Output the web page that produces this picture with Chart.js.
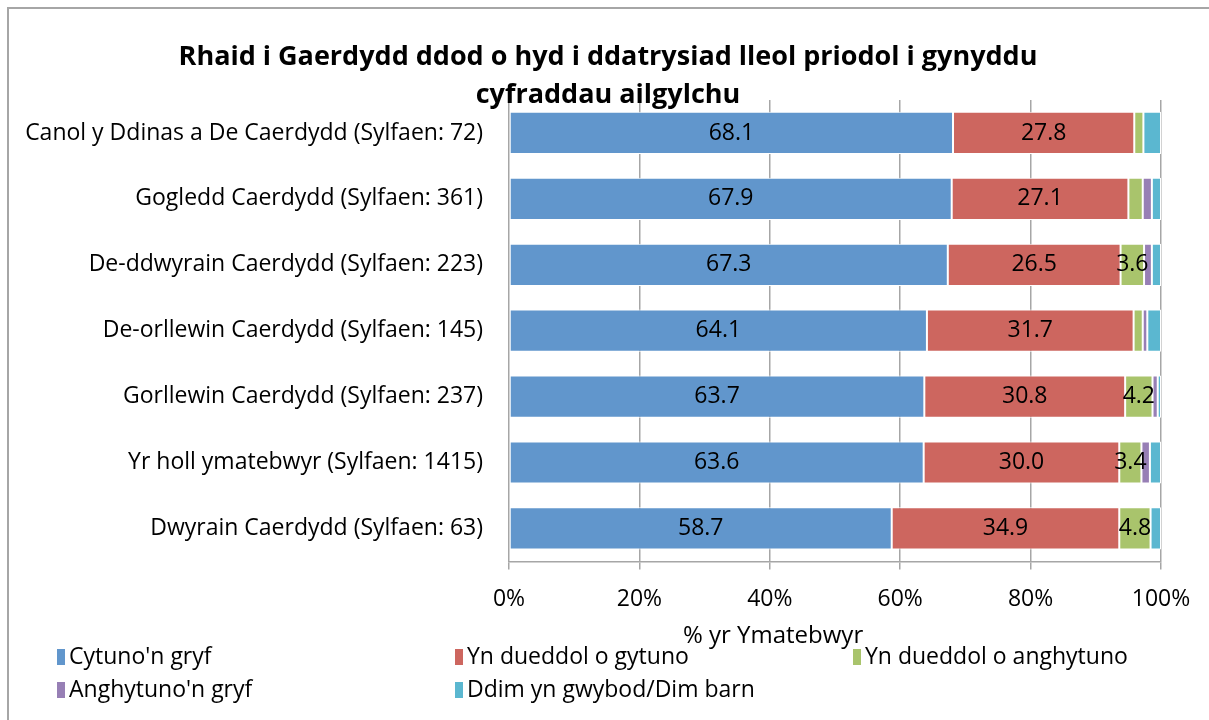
<!DOCTYPE html>
<html>
<head>
<meta charset="utf-8">
<script src="https://cdn.jsdelivr.net/npm/chart.js@4/dist/chart.umd.min.js"></script>
<style>
  body { margin: 0; background: #fff; overflow: hidden; }
  .frame { position: absolute; left: 7px; top: 7px; width: 1220px; height: 730px; border: 2px solid #a6a6a6; }
  #wrap { position: absolute; left: 0; top: 0; width: 1209px; height: 720px; }
</style>
</head>
<body>
<div class="frame"></div>
<div id="wrap"><canvas id="chart" width="1209" height="720"></canvas></div>
<script>
// rows, top to bottom
const categories = [
  'Canol y Ddinas a De Caerdydd (Sylfaen: 72)',
  'Gogledd Caerdydd (Sylfaen: 361)',
  'De-ddwyrain Caerdydd (Sylfaen: 223)',
  'De-orllewin Caerdydd (Sylfaen: 145)',
  'Gorllewin Caerdydd (Sylfaen: 237)',
  'Yr holl ymatebwyr (Sylfaen: 1415)',
  'Dwyrain Caerdydd (Sylfaen: 63)'
];
const seriesNames = ["Cytuno'n gryf", 'Yn dueddol o gytuno', 'Yn dueddol o anghytuno', "Anghytuno'n gryf", 'Ddim yn gwybod/Dim barn'];
const cytunoGryf     = [68.1, 67.9, 67.3, 64.1, 63.7, 63.6, 58.7];
const dueddolGytuno  = [27.8, 27.1, 26.5, 31.7, 30.8, 30.0, 34.9];
const dueddolAnghyt  = [1.4, 2.2, 3.6, 1.4, 4.2, 3.4, 4.8];
const anghytunoGryf  = [0.0, 1.4, 1.2, 0.7, 0.8, 1.3, 0.0];
const ddimGwybod     = [2.7, 1.4, 1.4, 2.1, 0.5, 1.7, 1.6];
const xTicks = [0, 20, 40, 60, 80, 100];
const colors = ['#6196cc', '#cd665f', '#a9c46c', '#977fb5', '#5bb7d0'];
const titleLines = ['Rhaid i Gaerdydd ddod o hyd i ddatrysiad lleol priodol i gynyddu', 'cyfraddau ailgylchu'];

const FONT = '"Open Sans", Lato, sans-serif';
const allSeries = [cytunoGryf, dueddolGytuno, dueddolAnghyt, anghytunoGryf, ddimGwybod];

const extras = {
  id: 'extras',
  afterDatasetsDraw(chart) {
    const ctx = chart.ctx;
    ctx.save();
    ctx.font = '23px ' + FONT;
    ctx.fillStyle = '#000';
    ctx.textAlign = 'center';
    ctx.textBaseline = 'middle';
    chart.data.datasets.forEach((ds, i) => {
      chart.getDatasetMeta(i).data.forEach((bar, j) => {
        const v = ds.data[j];
        if (v < 3) return;
        const p = bar.getCenterPoint();
        ctx.fillText(v.toFixed(1), p.x, p.y);
      });
    });
    ctx.restore();
  },
  afterDraw(chart) {
    const ctx = chart.ctx;
    const area = chart.chartArea;
    ctx.save();
    ctx.fillStyle = '#000';
    ctx.textAlign = 'center';
    ctx.textBaseline = 'middle';
    // title, centred on the outer frame
    ctx.font = 'bold 27px ' + FONT;
    titleLines.forEach((t, i) => ctx.fillText(t, 608, 57 + i * 38));
    // axis title
    ctx.font = '24px ' + FONT;
    ctx.fillText('% yr Ymatebwyr', area.left + (area.right - area.left) * 0.405, 636);
    // legend in a three-column grid
    ctx.font = '23px ' + FONT;
    ctx.textAlign = 'left';
    const cols = [57, 455, 853];
    const rows = [657, 690];
    chart.data.datasets.forEach((ds, i) => {
      const x = cols[i % 3];
      const y = rows[Math.floor(i / 3)];
      ctx.fillStyle = ds.backgroundColor;
      ctx.fillRect(x, y - 8, 8, 16);
      ctx.fillStyle = '#000';
      ctx.fillText(ds.label, x + 12, y);
    });
    ctx.restore();
  }
};

function drawChart() {
  new Chart(document.getElementById('chart'), {
    type: 'bar',
    data: {
      labels: categories,
      datasets: allSeries.map((d, i) => ({
        label: seriesNames[i],
        data: d,
        backgroundColor: colors[i],
        borderColor: '#ffffff',
        borderWidth: 1,
        borderSkipped: false,
        barPercentage: 0.64,
        categoryPercentage: 1
      }))
    },
    options: {
      indexAxis: 'y',
      responsive: false,
      animation: false,
      devicePixelRatio: 1,
      layout: { padding: { left: 20, right: 48, top: 100, bottom: 91 } },
      plugins: {
        legend: { display: false },
        tooltip: { enabled: false },
        title: { display: false }
      },
      scales: {
        x: {
          stacked: true,
          min: 0,
          max: 100,
          afterBuildTicks(scale) { scale.ticks = xTicks.map(v => ({ value: v })); },
          ticks: { color: '#000', font: { family: FONT, size: 23 }, padding: 16, callback: v => v + '%' },
          grid: { color: '#a6a6a6', lineWidth: 1.5, tickLength: 8 },
          border: { color: '#a6a6a6', width: 1.5 }
        },
        y: {
          stacked: true,
          afterFit(scale) { scale.width = 489; },
          ticks: { color: '#000', font: { family: FONT, size: 23 }, padding: 18 },
          grid: { display: false },
          border: { display: false }
        }
      }
    },
    plugins: [extras]
  });
}

document.fonts.load('23px "Open Sans"').then(() => document.fonts.load('bold 27px "Open Sans"')).then(drawChart, drawChart);
</script>
</body>
</html>
